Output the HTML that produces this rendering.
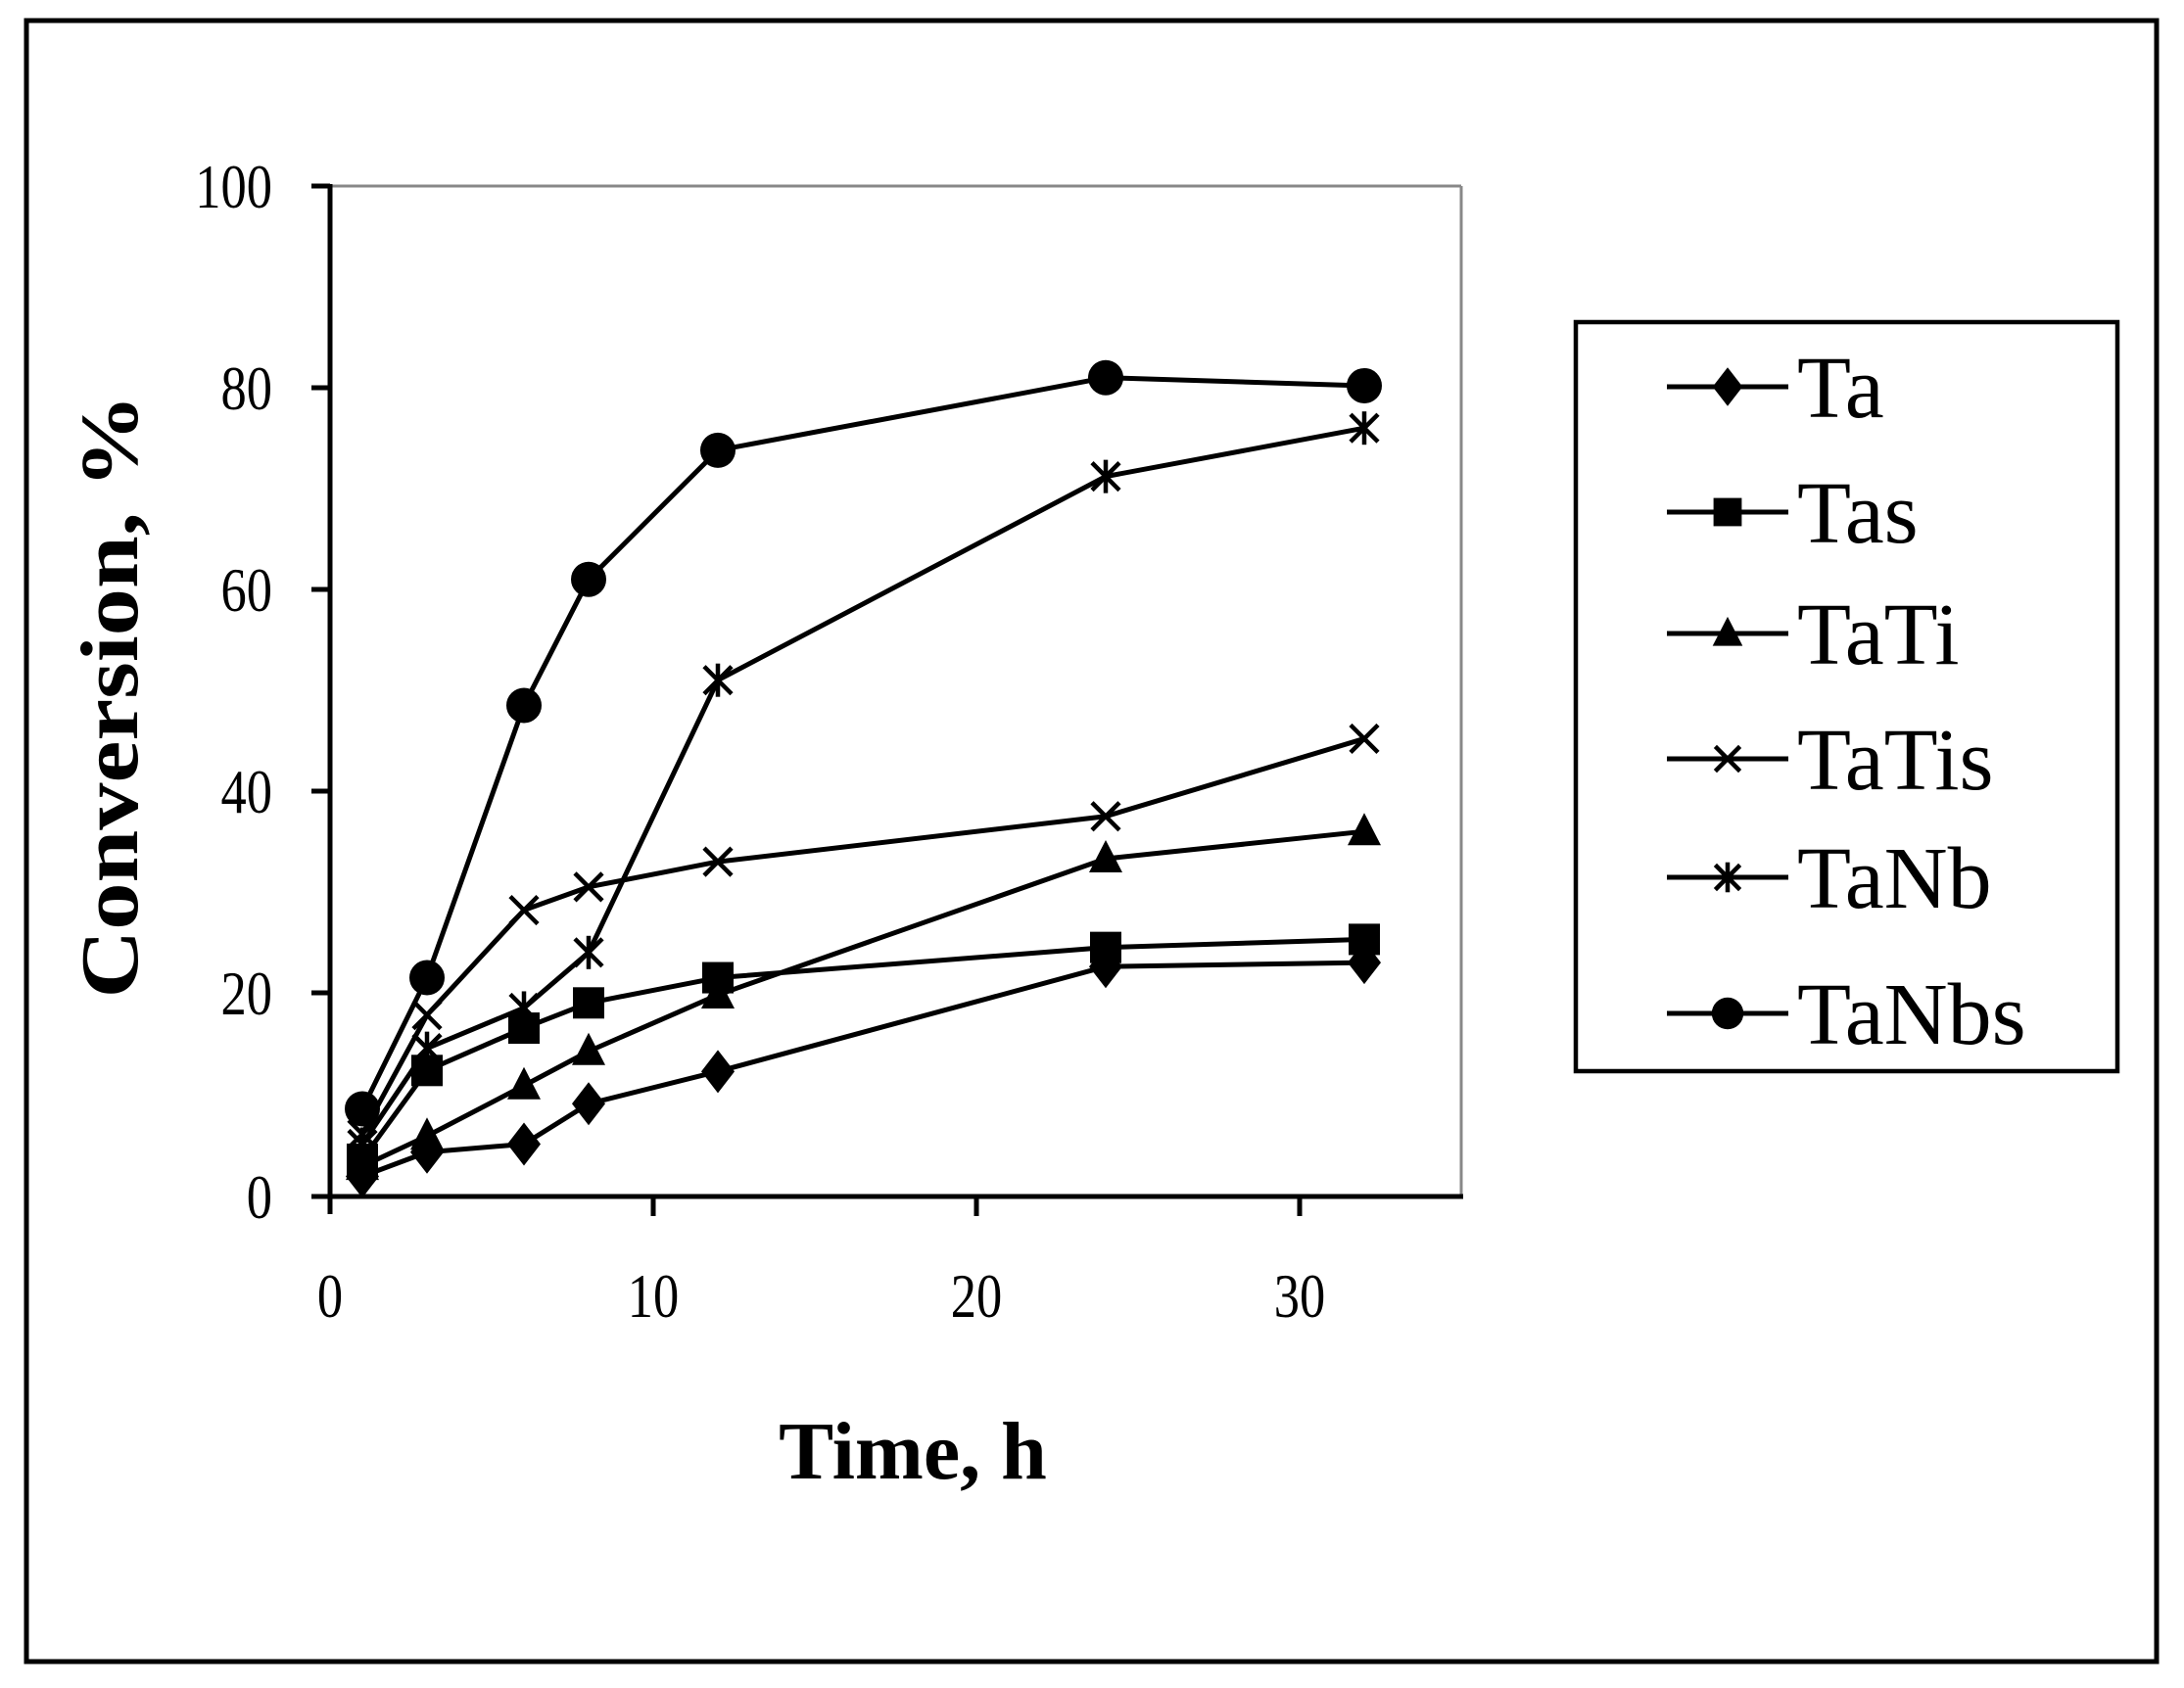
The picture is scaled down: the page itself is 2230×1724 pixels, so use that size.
<!DOCTYPE html>
<html><head><meta charset="utf-8"><style>
html,body{margin:0;padding:0;background:#fff;}
svg{display:block;}
text{font-family:"Liberation Serif",serif;fill:#000;}
</style></head><body>
<svg id="s" width="2230" height="1724" viewBox="0 0 2230 1724" xmlns="http://www.w3.org/2000/svg">
<rect x="27" y="21" width="2175" height="1676" fill="none" stroke="#000" stroke-width="5"/>
<line x1="337" y1="190" x2="1492" y2="190" stroke="#888" stroke-width="3"/>
<line x1="1492" y1="190" x2="1492" y2="1222" stroke="#888" stroke-width="3"/>
<line x1="337" y1="188" x2="337" y2="1240" stroke="#000" stroke-width="5"/>
<line x1="318" y1="1222" x2="1494" y2="1222" stroke="#000" stroke-width="5"/>
<g stroke="#000" stroke-width="5">
<line x1="318" y1="190" x2="337" y2="190"/>
<line x1="318" y1="396" x2="337" y2="396"/>
<line x1="318" y1="602" x2="337" y2="602"/>
<line x1="318" y1="808" x2="337" y2="808"/>
<line x1="318" y1="1014" x2="337" y2="1014"/>
<line x1="667" y1="1222" x2="667" y2="1242"/>
<line x1="997" y1="1222" x2="997" y2="1242"/>
<line x1="1327" y1="1222" x2="1327" y2="1242"/>
</g>
<g font-size="64" text-anchor="end">
<text transform="translate(278,212) scale(0.82,1)">100</text>
<text transform="translate(278,418) scale(0.82,1)">80</text>
<text transform="translate(278,624) scale(0.82,1)">60</text>
<text transform="translate(278,830) scale(0.82,1)">40</text>
<text transform="translate(278,1036) scale(0.82,1)">20</text>
<text transform="translate(278,1244) scale(0.82,1)">0</text>
</g>
<g font-size="64" text-anchor="middle">
<text transform="translate(337,1345) scale(0.82,1)">0</text>
<text transform="translate(667,1345) scale(0.82,1)">10</text>
<text transform="translate(997,1345) scale(0.82,1)">20</text>
<text transform="translate(1327,1345) scale(0.82,1)">30</text>
</g>
<text x="932" y="1510" font-size="84" font-weight="bold" text-anchor="middle">Time, h</text>
<text transform="translate(140,711) rotate(-90) scale(1.15,1)" font-size="84" font-weight="bold" text-anchor="middle">Conversion, %</text>
<rect x="1609" y="329" width="553" height="765" fill="none" stroke="#000" stroke-width="4.5"/>
<g font-size="90">
<text x="1835" y="426">Ta</text>
<text x="1835" y="554">Tas</text>
<text x="1835" y="678">TaTi</text>
<text x="1835" y="806">TaTis</text>
<text x="1835" y="927">TaNb</text>
<text x="1835" y="1066">TaNbs</text>
</g>
<g id="g"></g>
</svg>
<script>
var NS="http://www.w3.org/2000/svg",g=document.getElementById("g");
function X(t){return 337+33*t}function Y(v){return 1220-10.3*v}
function el(n,a){var e=document.createElementNS(NS,n);for(var k in a)e.setAttribute(k,a[k]);g.appendChild(e);return e}
function mk(type,x,y,s){s=s||1;
 if(type=="d")el("polygon",{points:[x,y-22*s,x+17*s,y,x,y+22*s,x-17*s,y].join(","),fill:"#000"});
 if(type=="s")el("rect",{x:x-16*s,y:y-16*s,width:32*s,height:32*s,fill:"#000"});
 if(type=="t")el("polygon",{points:[x,y-19*s,x+17*s,y+14*s,x-17*s,y+14*s].join(","),fill:"#000"});
 if(type=="x"){el("line",{x1:x-14*s,y1:y-14*s,x2:x+14*s,y2:y+14*s,stroke:"#000","stroke-width":4.5});el("line",{x1:x-14*s,y1:y+14*s,x2:x+14*s,y2:y-14*s,stroke:"#000","stroke-width":4.5});}
 if(type=="a"){el("line",{x1:x-14*s,y1:y-14*s,x2:x+14*s,y2:y+14*s,stroke:"#000","stroke-width":4.5});el("line",{x1:x-14*s,y1:y+14*s,x2:x+14*s,y2:y-14*s,stroke:"#000","stroke-width":4.5});el("line",{x1:x,y1:y-17*s,x2:x,y2:y+17*s,stroke:"#000","stroke-width":4.5});}
 if(type=="c")el("circle",{cx:x,cy:y,r:18*s,fill:"#000"});
}
var T=[1,3,6,8,12,24,32];
var S=[["d",[1.8,4.2,5,9,12.2,22.6,23]],["s",[3.5,12.3,16.5,19,21.5,24.5,25.3]],["t",[2.8,5.8,10.8,14.2,19.8,33.3,36]],["x",[6,17.8,28.2,30.5,33,37.5,45.2]],["a",[5,14.5,18.5,24,51,71.2,76]],["c",[8.5,21.5,48.5,61,73.8,81,80.2]]];
S.forEach(function(s){var p=T.map(function(t,i){return X(t)+","+Y(s[1][i])}).join(" ");
 el("polyline",{points:p,fill:"none",stroke:"#000","stroke-width":5,"stroke-linejoin":"round"});
 T.forEach(function(t,i){mk(s[0],X(t),Y(s[1][i]))});});
var LY=[395,523,647,775,896,1035];
S.forEach(function(s,i){el("line",{x1:1702,y1:LY[i],x2:1826,y2:LY[i],stroke:"#000","stroke-width":5});mk(s[0],1764,LY[i],0.9);});
</script>
</body></html>
